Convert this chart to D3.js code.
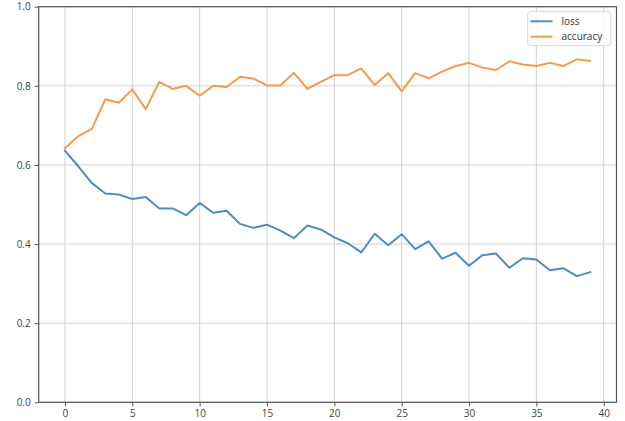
<!DOCTYPE html>
<html>
<head>
<meta charset="utf-8">
<script src="https://cdn.jsdelivr.net/npm/d3@7/dist/d3.min.js"></script>
<style>
  html, body { margin: 0; padding: 0; background: #fff; }
  svg { display: block; }
  text { font-family: "Open Sans", "DejaVu Sans", sans-serif; }
</style>
</head>
<body>
<svg id="chart" width="625" height="421"></svg>
<script>
// Training history per epoch
const epochs = d3.range(40);
const loss = [0.636, 0.596, 0.554, 0.528, 0.525, 0.514, 0.519, 0.490, 0.490, 0.473,
              0.504, 0.479, 0.484, 0.451, 0.441, 0.449, 0.434, 0.415, 0.447, 0.437,
              0.417, 0.402, 0.379, 0.426, 0.397, 0.425, 0.387, 0.407, 0.363, 0.378,
              0.345, 0.372, 0.376, 0.340, 0.364, 0.361, 0.334, 0.339, 0.319, 0.329];
const accuracy = [0.642, 0.673, 0.691, 0.766, 0.757, 0.791, 0.741, 0.810, 0.792, 0.800,
                  0.775, 0.800, 0.797, 0.823, 0.818, 0.801, 0.801, 0.833, 0.792, 0.810,
                  0.827, 0.827, 0.844, 0.802, 0.832, 0.786, 0.832, 0.819, 0.836, 0.850,
                  0.858, 0.846, 0.840, 0.862, 0.854, 0.850, 0.858, 0.850, 0.867, 0.863];
const xTicks = [0, 5, 10, 15, 20, 25, 30, 35, 40];
const yTicks = [0.0, 0.2, 0.4, 0.6, 0.8, 1.0];
const seriesNames = ["loss", "accuracy"];
const seriesColors = ["#4f8cbf", "#f39c4c"];

const svg = d3.select("#chart");
const plot = { left: 38.7, right: 616.5, top: 6.7, bottom: 402.3 };

const x = d3.scaleLinear().domain([-1.95, 40.95]).range([plot.left, plot.right]);
const y = d3.scaleLinear().domain([0, 1]).range([plot.bottom, plot.top]);

// Grid lines
const grid = svg.append("g");
grid.selectAll("line.gx").data(xTicks).join("line")
  .attr("class", "gx")
  .attr("x1", d => x(d)).attr("x2", d => x(d))
  .attr("y1", plot.top).attr("y2", plot.bottom)
  .attr("stroke", "#d2d2d2").attr("stroke-width", 1);
grid.selectAll("line.gy").data(yTicks).join("line")
  .attr("class", "gy")
  .attr("x1", plot.left).attr("x2", plot.right)
  .attr("y1", d => y(d)).attr("y2", d => y(d))
  .attr("stroke", "#d2d2d2").attr("stroke-width", 1);

// Axes
const xAxis = svg.append("g")
  .attr("transform", `translate(0,${plot.bottom})`)
  .call(d3.axisBottom(x).tickValues(xTicks).tickFormat(d3.format("d")).tickSize(4).tickPadding(4));
const yAxis = svg.append("g")
  .attr("transform", `translate(${plot.left},0)`)
  .call(d3.axisLeft(y).tickValues(yTicks).tickFormat(d3.format(".1f")).tickSize(4).tickPadding(4));
[xAxis, yAxis].forEach(a => {
  a.select(".domain").remove();
  a.selectAll(".tick line").attr("stroke", "#555");
  a.selectAll(".tick text").attr("fill", "#444").style("font-size", "10px")
    .style("font-family", "'Open Sans', 'DejaVu Sans', sans-serif");
});

// Series lines
const line = d3.line().x((d, i) => x(epochs[i])).y(d => y(d));
[loss, accuracy].forEach((vals, k) => {
  svg.append("path").datum(vals)
    .attr("d", line)
    .attr("fill", "none")
    .attr("stroke", seriesColors[k])
    .attr("stroke-width", 2)
    .attr("stroke-linejoin", "round")
    .attr("stroke-linecap", "square");
});

// Frame
svg.append("rect")
  .attr("x", plot.left).attr("y", plot.top)
  .attr("width", plot.right - plot.left).attr("height", plot.bottom - plot.top)
  .attr("fill", "none").attr("stroke", "#555").attr("stroke-width", 1.2);

// Legend
const lg = svg.append("g");
lg.append("rect")
  .attr("x", 527.7).attr("y", 11.7).attr("width", 83).attr("height", 34)
  .attr("rx", 3).attr("fill", "#fff").attr("fill-opacity", 0.85)
  .attr("stroke", "#d6d6d6").attr("stroke-width", 1);
seriesNames.forEach((name, k) => {
  const ly = 21.3 + k * 15.4;
  lg.append("line")
    .attr("x1", 530.5).attr("x2", 552.5).attr("y1", ly).attr("y2", ly)
    .attr("stroke", seriesColors[k]).attr("stroke-width", 2);
  lg.append("text")
    .attr("x", 561.5).attr("y", ly).attr("dy", "0.35em")
    .attr("fill", "#333").style("font-size", "10px")
    .text(name);
});
</script>
</body>
</html>
